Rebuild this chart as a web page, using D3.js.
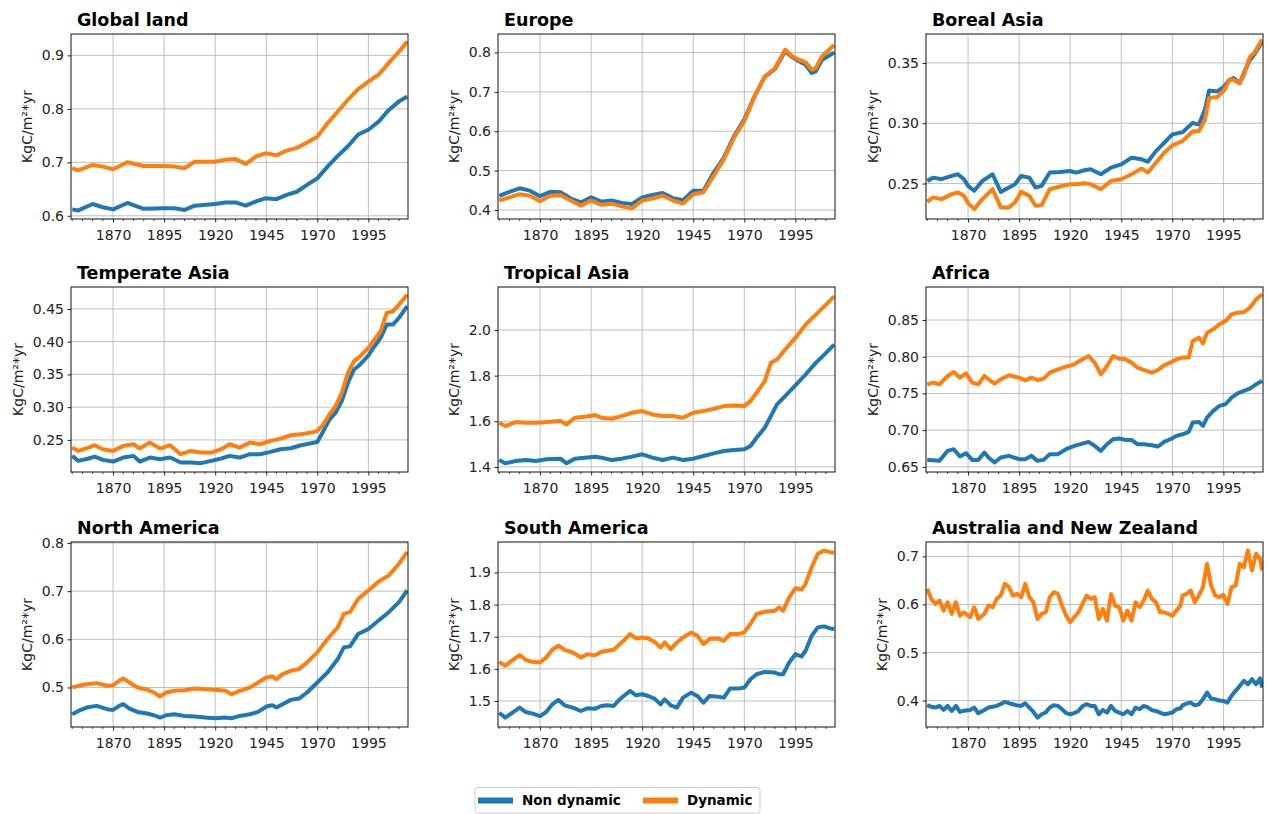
<!DOCTYPE html>
<html>
<head>
<meta charset="utf-8">
<script src="https://cdn.jsdelivr.net/npm/d3@7"></script>
<style>
    body { margin: 0; background: #fff; }
    text { font-family: "DejaVu Sans", sans-serif; }
</style>
</head>
<body>
<div id="chart"></div>
<script>
// Region titles, in panel order (row by row)
const regionNames = ["Global land", "Europe", "Boreal Asia", "Temperate Asia", "Tropical Asia",
    "Africa", "North America", "South America", "Australia and New Zealand"];
const seriesNames = ["Non dynamic", "Dynamic"];
const yLabel = "KgC/m\u00b2*yr";
const xTickYears = [1870, 1895, 1920, 1945, 1970, 1995];

const globalYears = [1850,1853,1860,1865,1870,1877,1885,1895,1900,1905,1910,1920,1925,1930,1935,1940,1945,1950,1955,1960,1965,1970,1975,1980,1985,1990,1995,2000,2005,2010,2014];
const globalNonDyn = [0.612,0.610,0.622,0.616,0.612,0.624,0.613,0.614,0.614,0.611,0.619,0.622,0.625,0.625,0.619,0.627,0.633,0.631,0.639,0.645,0.658,0.670,0.692,0.712,0.730,0.752,0.761,0.776,0.798,0.814,0.823];
const globalDyn = [0.689,0.685,0.695,0.692,0.687,0.700,0.693,0.693,0.692,0.689,0.701,0.701,0.705,0.706,0.697,0.711,0.717,0.713,0.722,0.727,0.737,0.748,0.773,0.795,0.817,0.837,0.851,0.864,0.886,0.907,0.926];

const europeYears = [1850,1855,1860,1865,1870,1875,1880,1885,1890,1895,1900,1905,1910,1915,1920,1925,1930,1935,1940,1945,1950,1955,1960,1965,1970,1975,1980,1985,1990,1993,1997,2000,2003,2005,2008,2014];
const europeNonDyn = [0.436,0.446,0.455,0.449,0.435,0.446,0.445,0.429,0.419,0.432,0.421,0.424,0.418,0.415,0.432,0.438,0.443,0.430,0.425,0.449,0.449,0.495,0.533,0.588,0.630,0.689,0.738,0.758,0.803,0.790,0.777,0.769,0.748,0.752,0.781,0.800];
const europeDyn = [0.424,0.432,0.440,0.436,0.422,0.436,0.438,0.424,0.411,0.424,0.413,0.416,0.409,0.404,0.424,0.429,0.436,0.424,0.416,0.440,0.445,0.487,0.529,0.584,0.626,0.689,0.739,0.760,0.807,0.792,0.781,0.775,0.756,0.760,0.790,0.819];

const borealYears = [1850,1853,1857,1862,1865,1868,1870,1873,1877,1882,1886,1890,1893,1896,1900,1903,1906,1910,1915,1920,1923,1927,1930,1935,1940,1945,1950,1955,1958,1962,1966,1970,1975,1980,1983,1986,1988,1992,1995,1998,2000,2003,2005,2008,2010,2014];
const borealNonDyn = [0.2522,0.2549,0.2536,0.2563,0.2577,0.2536,0.2481,0.244,0.2522,0.2577,0.2431,0.2467,0.2495,0.2563,0.2549,0.2467,0.2481,0.2591,0.2596,0.2604,0.2591,0.261,0.2618,0.2577,0.2632,0.2659,0.2714,0.2701,0.2681,0.2769,0.2838,0.2907,0.2926,0.3003,0.2989,0.3113,0.3272,0.3264,0.3299,0.336,0.3374,0.3332,0.3415,0.3525,0.3566,0.3676];
const borealDyn = [0.2349,0.2385,0.2371,0.2412,0.2426,0.2398,0.2338,0.2288,0.2371,0.2453,0.2302,0.2302,0.2343,0.2431,0.2398,0.2316,0.2321,0.2453,0.2475,0.2495,0.2495,0.2503,0.2495,0.2453,0.2522,0.2536,0.2577,0.2624,0.2591,0.2673,0.2755,0.2816,0.2852,0.2934,0.2934,0.303,0.3209,0.3217,0.3264,0.336,0.336,0.3332,0.3401,0.3552,0.358,0.3695];

const temperateYears = [1850,1853,1858,1861,1865,1870,1875,1880,1883,1888,1893,1898,1903,1908,1913,1918,1923,1927,1932,1937,1942,1947,1952,1957,1962,1967,1970,1973,1976,1979,1982,1985,1988,1991,1995,1998,2001,2004,2007,2010,2014];
const temperateNonDyn = [0.2256,0.218,0.2216,0.2246,0.2195,0.217,0.2231,0.2256,0.217,0.2231,0.2206,0.2231,0.2155,0.2155,0.2145,0.218,0.2216,0.2256,0.2231,0.2282,0.2282,0.2317,0.2358,0.2373,0.2419,0.2449,0.2469,0.2637,0.2815,0.2916,0.3094,0.3373,0.3576,0.3652,0.3789,0.3931,0.4058,0.4261,0.4261,0.4363,0.4541];
const temperateDyn = [0.2383,0.2332,0.2383,0.2419,0.2358,0.2332,0.2409,0.2434,0.2368,0.2459,0.2368,0.2419,0.2282,0.2332,0.2307,0.2307,0.2358,0.2434,0.2383,0.2459,0.2434,0.2485,0.252,0.2571,0.2586,0.2612,0.2637,0.2739,0.2891,0.3018,0.3221,0.3525,0.3703,0.3779,0.3906,0.4033,0.416,0.4439,0.4464,0.4566,0.4718];

const tropicalYears = [1850,1853,1858,1863,1868,1873,1880,1883,1887,1892,1897,1900,1905,1910,1915,1920,1925,1930,1935,1940,1945,1950,1955,1960,1965,1970,1973,1976,1980,1983,1986,1990,1995,2000,2005,2010,2014];
const tropicalNonDyn = [1.4306,1.416,1.4262,1.4306,1.4262,1.4335,1.4364,1.416,1.4364,1.4408,1.4452,1.4408,1.4306,1.4364,1.4452,1.4554,1.4408,1.4306,1.4408,1.4306,1.4364,1.4481,1.4597,1.4699,1.4743,1.4772,1.4918,1.5282,1.5719,1.6228,1.6738,1.7102,1.7568,1.8049,1.8558,1.8995,1.9359];
const tropicalDyn = [1.5937,1.5791,1.5966,1.5937,1.5937,1.5966,1.601,1.5864,1.6155,1.6199,1.6272,1.6155,1.6112,1.6228,1.6374,1.6447,1.6301,1.6228,1.6228,1.6155,1.6374,1.6447,1.6549,1.6665,1.6694,1.6665,1.6884,1.7248,1.7757,1.8558,1.8704,1.9141,1.965,2.0233,2.067,2.1107,2.1471];

const africaYears = [1850,1853,1856,1860,1863,1866,1869,1872,1875,1878,1880,1883,1886,1890,1895,1898,1901,1904,1907,1910,1914,1918,1922,1926,1929,1932,1935,1938,1941,1944,1947,1950,1953,1956,1960,1963,1966,1969,1972,1975,1978,1980,1983,1985,1987,1990,1993,1996,1999,2002,2005,2008,2011,2014];
const africaNonDyn = [0.6595,0.6591,0.6582,0.6718,0.6741,0.6641,0.6686,0.6595,0.6595,0.6695,0.6627,0.6559,0.6627,0.665,0.6604,0.6604,0.665,0.6582,0.6595,0.6673,0.6673,0.6741,0.6786,0.6817,0.684,0.6786,0.6718,0.6808,0.6876,0.6886,0.6867,0.6867,0.6808,0.6808,0.6795,0.6777,0.684,0.6876,0.6922,0.6944,0.6976,0.7103,0.7112,0.7058,0.7171,0.7262,0.733,0.7353,0.7443,0.7502,0.7534,0.7566,0.7625,0.767];
const africaDyn = [0.7625,0.7647,0.7625,0.7738,0.7793,0.7715,0.7774,0.7647,0.7625,0.7738,0.7693,0.7634,0.7693,0.7747,0.7715,0.7679,0.7715,0.7684,0.7702,0.7783,0.7829,0.7865,0.7897,0.7965,0.801,0.792,0.7761,0.7874,0.801,0.7974,0.7965,0.792,0.7851,0.782,0.7783,0.782,0.7883,0.792,0.7965,0.7988,0.7988,0.8214,0.826,0.8183,0.8328,0.8373,0.8441,0.8486,0.8577,0.86,0.8609,0.8668,0.8781,0.8849];

const northAmYears = [1850,1853,1857,1862,1867,1870,1873,1875,1878,1882,1886,1890,1893,1896,1900,1905,1910,1915,1920,1925,1928,1932,1937,1941,1945,1948,1950,1953,1957,1961,1965,1970,1975,1980,1983,1986,1990,1995,2000,2005,2010,2014];
const northAmNonDyn = [0.4444,0.4514,0.4583,0.4618,0.4549,0.4535,0.4618,0.4653,0.4563,0.4493,0.4465,0.4424,0.4375,0.4424,0.4444,0.441,0.4396,0.4375,0.4361,0.4375,0.4361,0.441,0.4444,0.4493,0.4604,0.4632,0.4583,0.4653,0.4743,0.4771,0.4896,0.5104,0.5313,0.559,0.5833,0.5854,0.6111,0.6215,0.6389,0.6563,0.6771,0.7014];
const northAmDyn = [0.5,0.5035,0.5069,0.509,0.5035,0.5049,0.5139,0.5188,0.5104,0.5,0.4965,0.4896,0.4813,0.4896,0.4931,0.4944,0.4979,0.4965,0.4951,0.4931,0.4861,0.4931,0.5,0.5104,0.5208,0.5229,0.5174,0.5278,0.5347,0.5382,0.5521,0.5729,0.6007,0.625,0.6528,0.6563,0.684,0.7014,0.7201,0.7326,0.7569,0.7813];

const southAmYears = [1850,1853,1856,1860,1863,1866,1870,1873,1876,1879,1882,1886,1890,1893,1897,1900,1903,1906,1909,1912,1914,1917,1920,1923,1926,1929,1931,1934,1937,1940,1944,1947,1950,1953,1957,1960,1963,1967,1970,1973,1976,1980,1985,1987,1989,1992,1995,1998,2000,2003,2006,2009,2012,2014];
const southAmNonDyn = [1.4635,1.4479,1.4615,1.4792,1.4656,1.4615,1.4531,1.4656,1.4896,1.5031,1.4865,1.4792,1.4688,1.4771,1.476,1.4844,1.4865,1.4844,1.5052,1.5208,1.5313,1.5177,1.5208,1.5156,1.5073,1.4896,1.5052,1.4865,1.4792,1.5104,1.526,1.5156,1.4948,1.5156,1.5135,1.5104,1.5385,1.5385,1.5417,1.5677,1.5833,1.5906,1.5885,1.5833,1.5833,1.6198,1.6458,1.6385,1.6563,1.7031,1.7292,1.7323,1.726,1.724];
const southAmDyn = [1.6219,1.6094,1.625,1.6427,1.6281,1.6219,1.6198,1.6354,1.6594,1.6719,1.6594,1.651,1.6354,1.6458,1.6427,1.6531,1.6563,1.6594,1.6771,1.6948,1.7083,1.6948,1.6979,1.6948,1.6844,1.6667,1.6823,1.6615,1.6823,1.6979,1.7135,1.7031,1.6771,1.6927,1.6948,1.6875,1.7083,1.7083,1.7135,1.7396,1.7708,1.7781,1.7813,1.7917,1.7813,1.8229,1.851,1.8469,1.8646,1.9167,1.9583,1.9688,1.9635,1.9615];

const australiaYears = [1850,1852,1854,1856,1858,1860,1862,1864,1866,1868,1871,1873,1875,1878,1880,1882,1884,1886,1888,1890,1892,1894,1896,1898,1900,1902,1904,1906,1908,1910,1912,1914,1916,1918,1920,1922,1924,1926,1928,1930,1932,1934,1936,1938,1940,1942,1944,1946,1948,1950,1952,1954,1956,1958,1960,1962,1964,1966,1968,1970,1972,1974,1975,1977,1979,1981,1983,1985,1987,1989,1991,1993,1995,1997,1999,2001,2003,2005,2007,2009,2011,2013,2014];
const australiaNonDyn = [0.3903,0.3870,0.3854,0.3889,0.3805,0.3889,0.3784,0.3889,0.3763,0.3790,0.3805,0.3854,0.3736,0.3805,0.3854,0.3870,0.3889,0.3930,0.3972,0.3945,0.3924,0.3900,0.3889,0.3944,0.3854,0.3763,0.3645,0.3715,0.3750,0.3854,0.3903,0.3890,0.3819,0.3740,0.3715,0.3740,0.3784,0.3880,0.3924,0.3889,0.3889,0.3715,0.3805,0.3750,0.3889,0.3784,0.3750,0.3715,0.3784,0.3715,0.3854,0.3819,0.3889,0.3860,0.3800,0.3784,0.3750,0.3715,0.3730,0.3750,0.3819,0.3840,0.3900,0.3940,0.3958,0.3900,0.3924,0.4028,0.4167,0.4042,0.4028,0.4000,0.3993,0.3958,0.4100,0.4202,0.4300,0.4411,0.4341,0.4446,0.4341,0.4460,0.4272];
const australiaDyn = [0.6325,0.6116,0.6012,0.6081,0.5872,0.6046,0.5803,0.6046,0.5768,0.5838,0.5733,0.5942,0.5698,0.5803,0.5977,0.5942,0.6116,0.6186,0.6429,0.636,0.6186,0.622,0.6151,0.6429,0.6151,0.6046,0.5698,0.5803,0.5838,0.6151,0.6255,0.622,0.5977,0.5768,0.5629,0.5733,0.5838,0.6012,0.6186,0.6116,0.6151,0.5698,0.5907,0.5664,0.622,0.5977,0.5942,0.5664,0.5872,0.5664,0.6046,0.5942,0.6081,0.629,0.6116,0.6046,0.5838,0.5838,0.5803,0.5768,0.5872,0.5977,0.6186,0.622,0.629,0.6046,0.6186,0.636,0.6847,0.6394,0.6186,0.6151,0.62,0.6012,0.636,0.6394,0.6847,0.6777,0.7125,0.6708,0.7056,0.6951,0.6708];

// Y axis limits and tick values per panel
const yDomains = [[0.594, 0.940], [0.377, 0.847], [0.2206, 0.374], [0.201, 0.4835], [1.378, 2.188],
    [0.643, 0.895], [0.418, 0.802], [1.419, 1.995], [0.345, 0.730]];
const yTicks = [[0.6, 0.7, 0.8, 0.9], [0.4, 0.5, 0.6, 0.7, 0.8], [0.25, 0.30, 0.35],
    [0.25, 0.30, 0.35, 0.40, 0.45], [1.4, 1.6, 1.8, 2.0], [0.65, 0.70, 0.75, 0.80, 0.85],
    [0.5, 0.6, 0.7, 0.8], [1.5, 1.6, 1.7, 1.8, 1.9], [0.4, 0.5, 0.6, 0.7]];

document.addEventListener('DOMContentLoaded', () => {
    const width = 1269;
    const height = 814;
    const colLeft = [71, 498, 926];
    const rowTop = [34, 287, 542];
    const plotW = 337;
    const plotH = 185;
    const colors = ["#1f77b4", "#ff7f0e"];

    const panels = [
        [globalYears, globalNonDyn, globalDyn],
        [europeYears, europeNonDyn, europeDyn],
        [borealYears, borealNonDyn, borealDyn],
        [temperateYears, temperateNonDyn, temperateDyn],
        [tropicalYears, tropicalNonDyn, tropicalDyn],
        [africaYears, africaNonDyn, africaDyn],
        [northAmYears, northAmNonDyn, northAmDyn],
        [southAmYears, southAmNonDyn, southAmDyn],
        [australiaYears, australiaNonDyn, australiaDyn]
    ].map((p, i) => ({ title: regionNames[i], years: p[0], series: [p[1], p[2]], domain: yDomains[i], ticks: yTicks[i] }));

    const svg = d3.select("#chart").append("svg")
        .attr("width", width)
        .attr("height", height);

    panels.forEach((panel, i) => drawPanel(panel, i));
    drawLegend();

    // Function to draw one subplot
    function drawPanel(panel, i) {
        const left = colLeft[i % 3];
        const top = rowTop[Math.floor(i / 3)];
        const g = svg.append("g").attr("transform", `translate(${left},${top})`);

        const x = d3.scaleLinear().domain([1849.4, 2014.4]).range([0, plotW]);
        const y = d3.scaleLinear().domain(panel.domain).range([plotH, 0]);

        const twoDecimals = panel.ticks.some(t => Math.abs(Math.round(t * 10) - t * 10) > 1e-6);
        const fmt = d3.format(twoDecimals ? ".2f" : ".1f");

        // grid lines
        g.append("g")
            .selectAll("line")
            .data(xTickYears)
            .join("line")
            .attr("x1", d => x(d)).attr("x2", d => x(d))
            .attr("y1", 0).attr("y2", plotH)
            .attr("stroke", "#b0b0b0").attr("stroke-width", 0.8);
        g.append("g")
            .selectAll("line")
            .data(panel.ticks)
            .join("line")
            .attr("x1", 0).attr("x2", plotW)
            .attr("y1", d => y(d)).attr("y2", d => y(d))
            .attr("stroke", "#b0b0b0").attr("stroke-width", 0.8);

        // clip for the series
        const clipId = "clip" + i;
        g.append("clipPath").attr("id", clipId)
            .append("rect").attr("width", plotW).attr("height", plotH);

        const line = d3.line()
            .x(d => x(d[0]))
            .y(d => y(d[1]));

        panel.series.forEach((vals, s) => {
            const pts = panel.years.map((yr, k) => [yr, vals[k]]);
            g.append("path")
                .datum(pts)
                .attr("clip-path", `url(#${clipId})`)
                .attr("fill", "none")
                .attr("stroke", colors[s])
                .attr("stroke-width", 4)
                .attr("stroke-linejoin", "round")
                .attr("stroke-linecap", "butt")
                .attr("d", line);
        });

        // x axis with minor ticks
        const minorYears = d3.range(1850, 2015, 5).filter(d => !xTickYears.includes(d));
        const xAxis = g.append("g")
            .attr("transform", `translate(0,${plotH})`)
            .call(d3.axisBottom(x).tickValues(xTickYears).tickSize(3.5).tickPadding(3.5).tickFormat(d3.format("d")));
        xAxis.select(".domain").remove();
        xAxis.selectAll("text")
            .attr("y", 21).attr("dy", null)
            .attr("font-size", 14).attr("fill", "#222")
            .style("font-family", '"DejaVu Sans", sans-serif');
        xAxis.selectAll("line").attr("stroke", "#222");
        g.append("g")
            .selectAll("line")
            .data(minorYears)
            .join("line")
            .attr("x1", d => x(d)).attr("x2", d => x(d))
            .attr("y1", plotH).attr("y2", plotH + 2)
            .attr("stroke", "#222").attr("stroke-width", 0.8);

        // y axis
        const yAxis = g.append("g")
            .call(d3.axisLeft(y).tickValues(panel.ticks).tickSize(3.5).tickPadding(3.5).tickFormat(fmt));
        yAxis.select(".domain").remove();
        yAxis.selectAll("line").attr("stroke", "#222");
        yAxis.selectAll("text")
            .attr("font-size", 14).attr("fill", "#222")
            .style("font-family", '"DejaVu Sans", sans-serif');

        let maxW = 0;
        yAxis.selectAll("text").each(function () {
            maxW = Math.max(maxW, this.getComputedTextLength());
        });

        // axes frame
        g.append("rect")
            .attr("width", plotW).attr("height", plotH)
            .attr("fill", "none").attr("stroke", "#111").attr("stroke-width", 1);

        // y label
        g.append("text")
            .attr("transform", `translate(${-maxW - 17},${plotH / 2}) rotate(-90)`)
            .attr("text-anchor", "middle")
            .attr("font-size", 14)
            .attr("fill", "#222")
            .text(yLabel);

        // title
        g.append("text")
            .attr("x", 6).attr("y", -8)
            .attr("font-size", 17.5)
            .attr("font-weight", "bold")
            .attr("fill", "#000")
            .text(panel.title);
    }

    // Function to draw the legend at the bottom
    function drawLegend() {
        const lg = svg.append("g").attr("transform", "translate(475,787.5)");
        lg.append("rect")
            .attr("width", 285).attr("height", 25.5)
            .attr("rx", 2.5)
            .attr("fill", "#fff").attr("stroke", "#cccccc").attr("stroke-width", 1);
        const offsets = [3, 168];
        seriesNames.forEach((name, s) => {
            lg.append("line")
                .attr("x1", offsets[s]).attr("x2", offsets[s] + 35)
                .attr("y1", 13).attr("y2", 13)
                .attr("stroke", colors[s]).attr("stroke-width", 6);
            lg.append("text")
                .attr("x", offsets[s] + 44).attr("y", 17.5)
                .attr("font-size", 13.5)
                .attr("font-weight", "bold")
                .attr("fill", "#000")
                .text(name);
        });
    }
});
</script>
</body>
</html>
